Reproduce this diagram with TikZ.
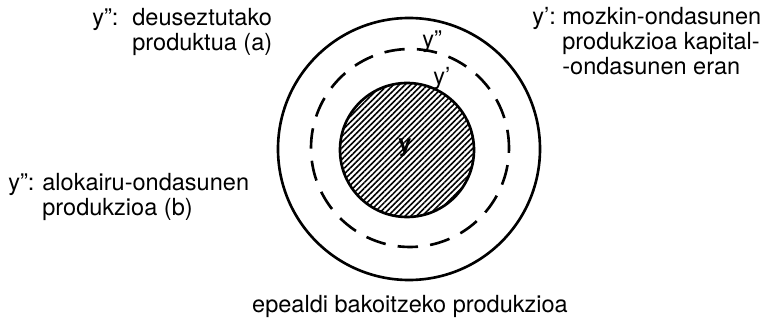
\documentclass[tikz,border=0pt]{standalone}
\usepackage{fontspec}
\setmainfont{TeX Gyre Heros}
\usetikzlibrary{patterns.meta}
\tikzset{
  lbl/.style={anchor=base west, inner sep=0pt, font=\fontsize{13.4pt}{14.2pt}\selectfont},
  boldlbl/.style={lbl, font=\fontsize{13.4pt}{14.2pt}\selectfont\bfseries},
  ring/.style={draw, line width=1.5pt},
  dashring/.style={draw, line width=1.5pt, dash pattern=on 11.6pt off 6.95pt, dash phase=1.2pt},
  core/.style={draw, line width=1.5pt, pattern={Lines[angle=45, distance=2.3pt, line width=0.9pt]}},
}

\begin{document}
\begin{tikzpicture}[x=0.02cm, y=0.02cm]
    \useasboundingbox (0,0) rectangle (765,-324);
    % production of the period
    \draw[ring] (409,-149) circle (131);
    \draw[dashring] (410,-148) circle (99);
    \draw[core] (407,-150) circle (67);
    \node[boldlbl] (y0) at (398,-152) {y};
    \node[lbl] (y1) at (433,-85) {y’};
    \node[lbl] (y2) at (422,-48) {y”};
    % explanations
    \node[lbl] (tl-key) at (92,-26) {y”:};
    \node[lbl] (tl-txt) at (132,-26) {\begin{tabular}[t]{@{}l@{}}deuseztutako\\ produktua (a)\end{tabular}};
    \node[lbl] (tr-key) at (532,-25) {y’:};
    \node[lbl] (tr-txt) at (562,-25) {\begin{tabular}[t]{@{}l@{}}mozkin-ondasunen\\ produkzioa kapital-\\ -ondasunen eran\end{tabular}};
    \node[lbl] (ml-key) at (8,-191) {y”:};
    \node[lbl] (ml-txt) at (42,-191) {\begin{tabular}[t]{@{}l@{}}alokairu-ondasunen\\ produkzioa (b)\end{tabular}};
    \node[lbl, anchor=base] (caption) at (410,-313) {epealdi bakoitzeko produkzioa};
  \end{tikzpicture}
\end{document}
